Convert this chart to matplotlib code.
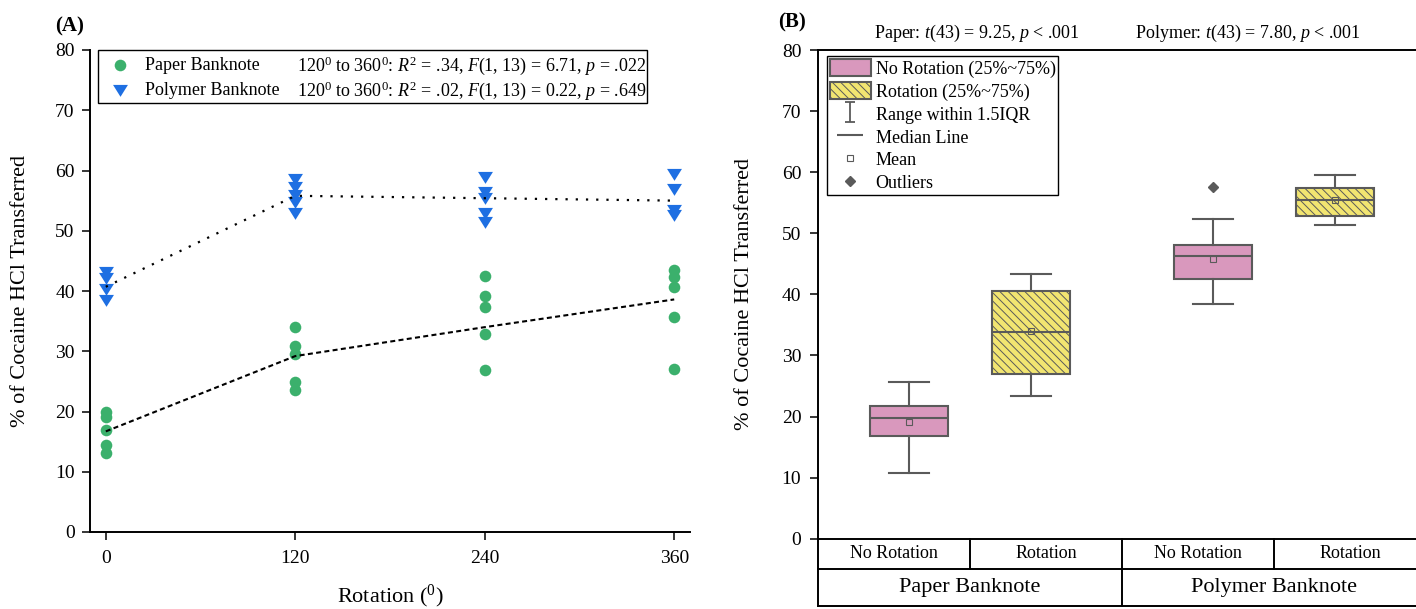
import matplotlib
matplotlib.use("Agg")
import matplotlib.pyplot as plt
from matplotlib.lines import Line2D
from matplotlib.patches import Patch, Rectangle
from matplotlib.path import Path

plt.rcParams['font.family'] = ['Liberation Serif', 'DejaVu Serif']
plt.rcParams['mathtext.fontset'] = 'custom'
plt.rcParams['mathtext.rm'] = 'Liberation Serif'
plt.rcParams['mathtext.it'] = 'Liberation Serif:italic'
plt.rcParams['mathtext.bf'] = 'Liberation Serif:bold'
plt.rcParams['hatch.color'] = '#5a5a5a'
plt.rcParams['hatch.linewidth'] = 0.7

# ---- panel A data ----
rotation = [0, 120, 240, 360]
paper_values = [
    [13.1, 14.4, 16.9, 19.1, 20.0],
    [23.6, 24.9, 29.5, 30.8, 34.1],
    [26.9, 32.8, 37.4, 39.1, 42.5],
    [27.0, 35.7, 40.7, 42.4, 43.5],
]
polymer_values = [
    [38.5, 40.4, 42.1, 43.2],
    [53.0, 54.8, 55.9, 57.2, 58.6],
    [51.5, 52.9, 55.5, 56.4, 59.0],
    [52.6, 53.4, 57.0, 59.5],
]
paper_trend = [16.7, 29.2, 34.0, 38.6]
polymer_trend = [40.7, 55.8, 55.4, 55.0]
paper_stats = r"120$^0$ to 360$^0$: $R^2$ = .34, $F$(1, 13) = 6.71, $p$ = .022"
polymer_stats = r"120$^0$ to 360$^0$: $R^2$ = .02, $F$(1, 13) = 0.22, $p$ = .649"

# ---- panel B data ----
box_groups = ['No Rotation', 'Rotation', 'No Rotation', 'Rotation']
banknotes = ['Paper Banknote', 'Polymer Banknote']
box_q1 = [16.8, 26.9, 42.5, 52.9]
box_med = [19.8, 33.9, 46.2, 55.5]
box_q3 = [21.8, 40.6, 48.1, 57.4]
box_mean = [19.1, 34.0, 45.8, 55.4]
box_low = [10.8, 23.4, 38.5, 51.4]
box_high = [25.7, 43.4, 52.4, 59.5]
box_outliers = [[], [], [57.5], []]
t_tests = [r"Paper: $t$(43) = 9.25, $p$ < .001", r"Polymer: $t$(43) = 7.80, $p$ < .001"]

green = '#3bb06c'
blue = '#1e6fe2'
pink = '#d998bd'
yellow = '#f2e571'
edge = '#5a5a5a'

W, H = 1416, 609
fig = plt.figure(figsize=(W / 100, H / 100), dpi=100)
axA = fig.add_axes([90 / W, 1 - 532 / H, 600 / W, 482 / H])
axB = fig.add_axes([818 / W, 1 - 538.7 / H, 608 / W, 488.7 / H])

# ---------- (A) scatter ----------
tri = [(-1, 0.75), (1, 0.75), (0, -0.85)]
for i, x in enumerate(rotation):
    axA.scatter([x] * len(paper_values[i]), paper_values[i], s=70, color=green,
                linewidths=0, zorder=3, label='Paper Banknote' if i == 0 else None)
    axA.scatter([x] * len(polymer_values[i]), polymer_values[i], s=115, marker=tri,
                color=blue, linewidths=0, zorder=3,
                label='Polymer Banknote' if i == 0 else None)
axA.plot(rotation, paper_trend, color='black', lw=1.5, ls=(0, (2.4, 1.6)), zorder=4)
axA.plot(rotation, polymer_trend, color='black', lw=1.6, ls=(0, (1, 3.6)), zorder=4)

axA.set_xlim(-10, 370)
axA.set_ylim(0, 80)
axA.set_xticks(rotation)
axA.set_yticks(range(0, 81, 10))
for s in ['top', 'right']:
    axA.spines[s].set_visible(False)
for s in ['left', 'bottom']:
    axA.spines[s].set_linewidth(1.4)
axA.tick_params(direction='out', length=6, width=1.1, labelsize=14, pad=5)
axA.tick_params(axis='x', pad=7)
axA.set_xlabel(r"Rotation ($^0$)", fontsize=16)
axA.set_ylabel("% of Cocaine HCl Transferred", fontsize=16)
axA.xaxis.set_label_coords(0.5, -0.105)
axA.yaxis.set_label_coords(-0.1, 0.5)

# legend: names via legend, stats as text, one frame around both
legA = axA.legend(loc='upper left', bbox_to_anchor=(0.0133, 1.0), borderaxespad=0,
                  fontsize=13, handlelength=1.66, handletextpad=0.55,
                  labelspacing=0.46, borderpad=0.38, frameon=False)
axA.text(0.345, 0.967, paper_stats, transform=axA.transAxes, fontsize=13,
         ha='left', va='center')
axA.text(0.345, 0.915, polymer_stats, transform=axA.transAxes, fontsize=13,
         ha='left', va='center')
axA.add_patch(Rectangle((0.0133, 0.890), 0.915, 0.110, transform=axA.transAxes,
                        fill=False, edgecolor='black', lw=1.0, clip_on=False, zorder=5))

fig.text(55 / W, 1 - 26 / H, "(A)", fontsize=15, fontweight='bold', va='center', ha='left')

# ---------- (B) box plots ----------
positions = [0.6, 1.4, 2.6, 3.4]
stats = []
for i in range(4):
    stats.append(dict(q1=box_q1[i], med=box_med[i], q3=box_q3[i], mean=box_mean[i],
                      whislo=box_low[i], whishi=box_high[i], fliers=box_outliers[i]))
bp = axB.bxp(stats, positions=positions, widths=0.51, capwidths=0.26,
             patch_artist=True, showmeans=True,
             boxprops=dict(edgecolor=edge, linewidth=1.5),
             medianprops=dict(color=edge, linewidth=1.5),
             whiskerprops=dict(color=edge, linewidth=1.5),
             capprops=dict(color=edge, linewidth=1.5),
             meanprops=dict(marker='s', markersize=5, markerfacecolor='none',
                            markeredgecolor=edge, markeredgewidth=0.8),
             flierprops=dict(marker='D', markersize=5, markerfacecolor=edge,
                             markeredgecolor=edge))
for i, patch in enumerate(bp['boxes']):
    if box_groups[i] == 'Rotation':
        patch.set_facecolor(yellow)
        patch.set_hatch('\\\\\\\\')
    else:
        patch.set_facecolor(pink)

axB.set_xlim(0, 4)
axB.set_ylim(0, 80)
axB.set_yticks(range(0, 81, 10))
axB.set_xticks([])
for s in axB.spines.values():
    s.set_linewidth(1.4)
axB.tick_params(axis='y', direction='out', length=6, width=1.1, labelsize=14, pad=6)
axB.set_ylabel("% of Cocaine HCl Transferred", fontsize=16)
axB.yaxis.set_label_coords(-0.105, 0.5)

# category table under the axis
tr = axB.get_xaxis_transform()
row1 = -30 / 488.7
row2 = -67 / 488.7
for yy in [row1, row2]:
    axB.add_line(Line2D([0, 4], [yy, yy], transform=tr, color='black', lw=1.4, clip_on=False))
for xx in [0, 2, 4]:
    axB.add_line(Line2D([xx, xx], [0, row2], transform=tr, color='black', lw=1.4, clip_on=False))
for xx in [1, 3]:
    axB.add_line(Line2D([xx, xx], [0, row1], transform=tr, color='black', lw=1.4, clip_on=False))
for i, g in enumerate(box_groups):
    axB.text(i + 0.5, row1 / 2, g, transform=tr, ha='center', va='center', fontsize=13)
for i, b in enumerate(banknotes):
    axB.text(2 * i + 1, (row1 + row2) / 2, b, transform=tr, ha='center', va='center', fontsize=16)

axB.text(1.046, 1.033, t_tests[0], transform=tr, ha='center', va='center', fontsize=13)
axB.text(2.83, 1.033, t_tests[1], transform=tr, ha='center', va='center', fontsize=13)

ibeam = Path([(-0.5, 1), (0.5, 1), (0, 1), (0, -1), (-0.5, -1), (0.5, -1)],
             [Path.MOVETO, Path.LINETO, Path.MOVETO, Path.LINETO, Path.MOVETO, Path.LINETO])
handlesB = [
    Patch(facecolor=pink, edgecolor=edge, linewidth=1.5),
    Patch(facecolor=yellow, edgecolor=edge, linewidth=1.5, hatch='\\\\\\\\'),
    Line2D([], [], ls='none', marker=ibeam, markersize=15, markeredgecolor=edge,
           markerfacecolor='none', markeredgewidth=1.3),
    Line2D([], [], ls='none', marker='_', markersize=19, markeredgecolor=edge,
           markeredgewidth=1.5),
    Line2D([], [], ls='none', marker='s', markersize=5, markerfacecolor='none',
           markeredgecolor=edge, markeredgewidth=0.8),
    Line2D([], [], ls='none', marker='D', markersize=5, markerfacecolor=edge,
           markeredgecolor=edge),
]
labelsB = ["No Rotation (25%~75%)", "Rotation (25%~75%)", "Range within 1.5IQR",
           "Median Line", "Mean", "Outliers"]
legB = axB.legend(handlesB, labelsB, loc='upper left', bbox_to_anchor=(0.0148, 0.9877),
                  borderaxespad=0, fontsize=13, handlelength=2.3, handleheight=1.1,
                  handletextpad=0.25, labelspacing=0.23, borderpad=0.15,
                  frameon=True, fancybox=False, edgecolor='black', framealpha=1)
legB.get_frame().set_linewidth(1.0)

fig.text(778 / W, 1 - 22 / H, "(B)", fontsize=15, fontweight='bold', va='center', ha='left')

fig.savefig("out.png", dpi=100)
